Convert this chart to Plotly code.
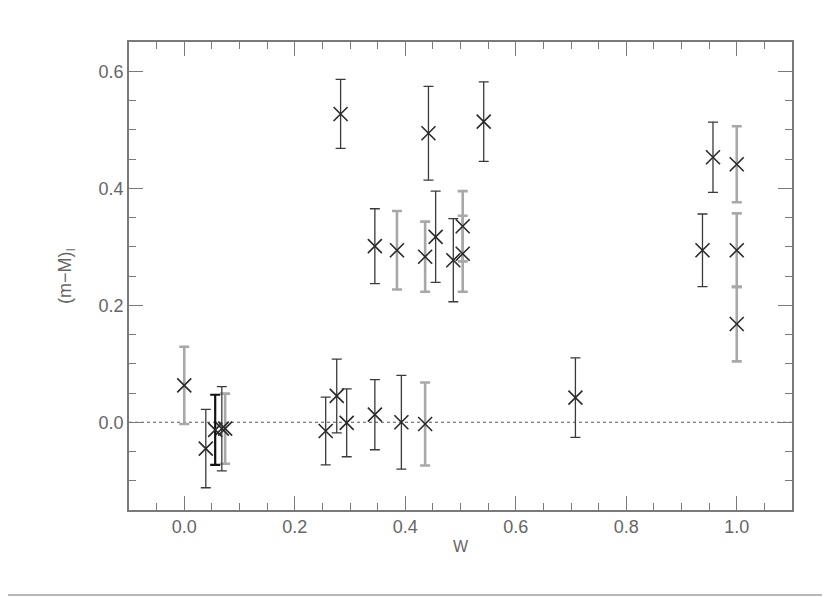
import plotly.graph_objects as go

# dark (black) error-bar points
dark_w = [0.039, 0.068, 0.256, 0.276, 0.283, 0.294, 0.345, 0.345, 0.393, 0.442, 0.455, 0.487, 0.542, 0.708, 0.938, 0.957]
dark_m = [-0.045, -0.011, -0.015, 0.045, 0.527, -0.001, 0.013, 0.301, 0.0, 0.494, 0.317, 0.277, 0.514, 0.042, 0.294, 0.453]
dark_e = [0.067, 0.072, 0.058, 0.063, 0.059, 0.058, 0.060, 0.064, 0.080, 0.080, 0.078, 0.071, 0.068, 0.068, 0.062, 0.060]

# thick black point
bold_w = [0.056]
bold_m = [-0.013]
bold_e = [0.060]

# gray error-bar points
gray_w = [0.0, 0.074, 0.385, 0.436, 0.436, 0.504, 0.504, 1.0, 1.0, 1.0]
gray_m = [0.063, -0.011, 0.294, 0.283, -0.003, 0.335, 0.288, 0.441, 0.294, 0.168]
gray_e = [0.066, 0.060, 0.067, 0.060, 0.071, 0.060, 0.065, 0.065, 0.063, 0.064]

font = "Liberation Sans, Arial, sans-serif"
fig = go.Figure()

def add(xs, ys, es, color, width):
    fig.add_trace(go.Scatter(
        x=xs, y=ys, mode="markers",
        marker=dict(symbol="x-thin-open", size=14, color="#2a2a2a",
                    line=dict(width=1.6, color="#2a2a2a")),
        error_y=dict(type="data", array=es, visible=True, color=color,
                     thickness=width, width=5),
        showlegend=False, hoverinfo="skip"))

add(gray_w, gray_m, gray_e, "#a8a8a8", 2.6)
add(dark_w, dark_m, dark_e, "#3a3a3a", 1.3)
add(bold_w, bold_m, bold_e, "#111111", 2.2)

# dotted zero line
fig.add_shape(type="line", xref="paper", yref="y", x0=0, x1=1, y0=0, y1=0,
              line=dict(color="#555555", width=1.2, dash="dot"), layer="below")
# bottom separator line of the page
fig.add_shape(type="line", xref="paper", yref="paper", x0=-0.2, x1=1.08,
              y0=-0.1816, y1=-0.1816, line=dict(color="#b8b8b8", width=2))

axis_common = dict(
    showgrid=False, zeroline=False, showline=True, linecolor="#7a7a7a", linewidth=1.5,
    mirror="ticks", ticks="inside", ticklen=14, tickwidth=1.3, tickcolor="#7a7a7a",
    tickfont=dict(family=font, size=18, color="#666666"),
)

fig.update_layout(
    width=830, height=597,
    margin=dict(l=121, r=46, t=34, b=95),
    paper_bgcolor="white", plot_bgcolor="white",
    xaxis=dict(range=[-0.1, 1.1], tickvals=[0.0, 0.2, 0.4, 0.6, 0.8, 1.0],
               ticktext=["0.0", "0.2", "0.4", "0.6", "0.8", "1.0"],
               minor=dict(dtick=0.05, ticks="inside", ticklen=7, tickcolor="#7a7a7a", tickwidth=1.2),
               title=dict(text="W", font=dict(family=font, size=16, color="#666666"), standoff=4),
               **axis_common),
    yaxis=dict(range=[-0.15, 0.65], tickvals=[0.0, 0.2, 0.4, 0.6],
               ticktext=["0.0", "0.2", "0.4", "0.6"],
               minor=dict(dtick=0.05, ticks="inside", ticklen=7, tickcolor="#7a7a7a", tickwidth=1.2),
               title=dict(text="(m−M)<sub>I</sub>", font=dict(family=font, size=18, color="#666666"), standoff=22),
               **axis_common),
)

fig.write_html("out.html")
